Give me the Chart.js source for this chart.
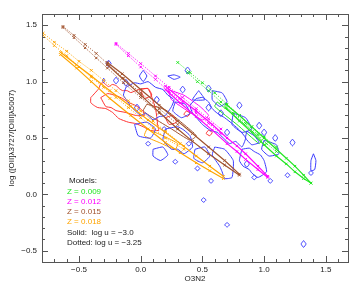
<!DOCTYPE html>
<html>
<head>
<meta charset="utf-8">
<script src="https://cdn.jsdelivr.net/npm/chart.js@4.4.1/dist/chart.umd.min.js"></script>
<style>
  html, body { margin: 0; padding: 0; background: #fff; }
  #wrap { width: 361px; height: 289px; }
</style>
</head>
<body>
<div id="wrap"><canvas id="myChart" width="361" height="289"></canvas></div>
<script>
// axis ticks
var xTicks = [-0.5, 0.0, 0.5, 1.0, 1.5];
var yTicks = [-0.5, 0.0, 0.5, 1.0, 1.5];
var xMinor = [-0.7, -0.6, -0.4, -0.3, -0.2, -0.1, 0.1, 0.2, 0.3, 0.4, 0.6, 0.7, 0.8, 0.9, 1.1, 1.2, 1.3, 1.4, 1.6];
var yMinor = [-0.4, -0.3, -0.2, -0.1, 0.1, 0.2, 0.3, 0.4, 0.6, 0.7, 0.8, 0.9, 1.1, 1.2, 1.3, 1.4];

// model tracks (O3N2, log OII/OIII)
var z009Solid  = [[[0.69,0.80],[0.80,0.70],[0.90,0.60],[1.00,0.50],[1.10,0.40],[1.18,0.32],[1.25,0.25],[1.32,0.17],[1.38,0.10]],
                  [[0.69,0.77],[0.80,0.65],[0.90,0.55],[1.00,0.44],[1.10,0.34],[1.18,0.27],[1.25,0.20],[1.32,0.14],[1.38,0.10]]];
var z009Dotted = [[[0.30,1.17],[0.40,1.08],[0.50,0.99],[0.60,0.90],[0.70,0.80],[0.80,0.70],[0.90,0.60],[1.00,0.51],[1.10,0.42]],
                  [[0.38,1.08],[0.46,1.00],[0.55,0.92],[0.65,0.82],[0.75,0.72],[0.85,0.63],[0.95,0.53],[1.02,0.45],[1.10,0.38]]];
var z012Solid  = [[[0.20,0.96],[0.32,0.85],[0.45,0.74],[0.58,0.62],[0.70,0.50],[0.78,0.43],[0.85,0.36],[0.95,0.25],[1.03,0.16]],
                  [[0.20,0.93],[0.32,0.81],[0.45,0.69],[0.58,0.57],[0.70,0.45],[0.78,0.38],[0.85,0.31],[0.95,0.22],[1.03,0.15]]];
var z012Dotted = [[[-0.20,1.34],[-0.10,1.25],[0.00,1.16],[0.12,1.05],[0.23,0.95],[0.34,0.86],[0.45,0.76],[0.55,0.67],[0.65,0.58]],
                  [[-0.20,1.33],[-0.10,1.23],[0.00,1.13],[0.12,1.02],[0.23,0.91],[0.34,0.82],[0.45,0.72],[0.55,0.63],[0.65,0.54]]];
var z015Solid  = [[[-0.27,1.17],[-0.15,1.07],[0.00,0.93],[0.15,0.79],[0.30,0.65],[0.42,0.54],[0.55,0.42],[0.68,0.30],[0.80,0.18]],
                  [[-0.27,1.15],[-0.15,1.03],[0.00,0.88],[0.15,0.73],[0.30,0.58],[0.42,0.47],[0.55,0.36],[0.68,0.26],[0.80,0.17]]];
var z015Dotted = [[[-0.63,1.49],[-0.54,1.41],[-0.45,1.33],[-0.36,1.25],[-0.27,1.16],[-0.14,1.03],[0.00,0.90],[0.15,0.76],[0.30,0.62]],
                  [[-0.63,1.48],[-0.54,1.39],[-0.45,1.30],[-0.36,1.21],[-0.27,1.12],[-0.14,0.99],[0.00,0.86],[0.15,0.72],[0.30,0.58]]];
var z018Solid  = [[[-0.65,1.26],[-0.52,1.15],[-0.40,1.05],[-0.25,0.92],[-0.08,0.78],[0.06,0.66],[0.20,0.55],[0.32,0.45],[0.45,0.34],[0.56,0.25],[0.67,0.16]],
                  [[-0.65,1.24],[-0.52,1.12],[-0.40,1.00],[-0.25,0.85],[-0.08,0.70],[0.06,0.58],[0.20,0.46],[0.32,0.37],[0.45,0.28],[0.56,0.21],[0.67,0.14]]];
var z018Dotted = [[[-0.79,1.43],[-0.70,1.35],[-0.60,1.27],[-0.50,1.18],[-0.40,1.10],[-0.30,1.01],[-0.20,0.92],[-0.10,0.83],[0.00,0.74],[0.10,0.65],[0.20,0.56],[0.35,0.43]],
                  [[-0.79,1.41],[-0.70,1.32],[-0.60,1.23],[-0.50,1.13],[-0.40,1.04],[-0.30,0.95],[-0.20,0.86],[-0.10,0.77],[0.00,0.68],[0.10,0.59],[0.20,0.50],[0.35,0.40]]];

// observed density contours
var redContours = [
  [[-0.405,0.858],[-0.37,0.90],[-0.34,0.938],[-0.324,0.982],[-0.30,0.991],[-0.28,0.97],[-0.26,0.956],[-0.23,0.975],[-0.20,0.965],[-0.17,0.935],[-0.146,0.92],[-0.11,0.92],[-0.08,0.903],[-0.03,0.925],[0.016,0.938],[0.057,0.938],[0.08,0.894],[0.10,0.83],[0.12,0.761],[0.13,0.69],[0.138,0.61],[0.146,0.566],[0.11,0.57],[0.08,0.566],[0.02,0.60],[-0.04,0.628],[-0.10,0.64],[-0.178,0.673],[-0.227,0.726],[-0.283,0.761],[-0.348,0.77],[-0.38,0.79],[-0.405,0.814],[-0.405,0.858]],
  [[-0.324,0.858],[-0.267,0.894],[-0.20,0.876],[-0.146,0.85],[-0.097,0.814],[-0.04,0.788],[0.016,0.743],[0.03,0.70],[-0.04,0.70],[-0.12,0.726],[-0.20,0.743],[-0.24,0.77],[-0.283,0.779],[-0.324,0.858]],
  [[0.00,0.93],[0.06,0.94],[0.09,0.88],[0.03,0.85],[0.00,0.93]],
  [[0.37,0.74],[0.40,0.72],[0.38,0.69],[0.35,0.71],[0.37,0.74]],
  [[0.55,0.57],[0.58,0.55],[0.56,0.52],[0.53,0.54],[0.55,0.57]],
  [[0.20,0.68],[0.26,0.70],[0.29,0.64],[0.23,0.62],[0.20,0.68]]
];
var blueContours = [
  [[-0.26,1.19],[-0.24,1.16],[-0.26,1.13],[-0.28,1.16],[-0.26,1.19]],
  [[-0.30,1.03],[-0.29,1.01],[-0.30,0.99],[-0.31,1.01],[-0.30,1.03]],
  [[-0.20,1.04],[-0.18,1.01],[-0.20,0.98],[-0.22,1.01],[-0.20,1.04]],
  [[-0.12,1.02],[-0.10,0.99],[-0.12,0.96],[-0.14,0.99],[-0.12,1.02]],
  [[0.02,1.10],[0.05,1.05],[0.02,1.00],[-0.01,1.05],[0.02,1.10]],
  [[0.22,1.05],[0.27,1.06],[0.32,1.04],[0.27,1.02],[0.22,1.05]],
  [[0.38,1.13],[0.40,1.10],[0.38,1.07],[0.36,1.10],[0.38,1.13]],
  [[0.55,0.97],[0.57,0.94],[0.55,0.91],[0.53,0.94],[0.55,0.97]],
  [[0.47,0.92],[0.52,0.84],[0.42,0.84],[0.47,0.92]],
  [[0.55,0.80],[0.57,0.77],[0.55,0.74],[0.53,0.77],[0.55,0.80]],
  [[0.65,0.75],[0.67,0.72],[0.65,0.69],[0.63,0.72],[0.65,0.75]],
  [[0.96,0.64],[0.98,0.61],[0.96,0.58],[0.94,0.61],[0.96,0.64]],
  [[1.09,0.53],[1.11,0.50],[1.09,0.47],[1.07,0.50],[1.09,0.53]],
  [[1.23,0.49],[1.25,0.46],[1.23,0.43],[1.21,0.46],[1.23,0.49]],
  [[0.28,0.31],[0.30,0.29],[0.28,0.27],[0.26,0.29],[0.28,0.31]],
  [[0.46,0.25],[0.48,0.23],[0.46,0.21],[0.44,0.23],[0.46,0.25]],
  [[0.51,-0.03],[0.53,-0.05],[0.51,-0.07],[0.49,-0.05],[0.51,-0.03]],
  [[0.70,-0.25],[0.72,-0.27],[0.70,-0.29],[0.68,-0.27],[0.70,-0.25]],
  [[1.32,-0.41],[1.34,-0.44],[1.32,-0.47],[1.30,-0.44],[1.32,-0.41]],
  [[0.92,0.17],[0.94,0.15],[0.92,0.13],[0.90,0.15],[0.92,0.17]],
  [[1.05,0.14],[1.07,0.12],[1.05,0.10],[1.03,0.12],[1.05,0.14]],
  [[1.19,0.19],[1.21,0.17],[1.19,0.15],[1.17,0.17],[1.19,0.19]],
  [[1.40,0.36],[1.42,0.30],[1.41,0.22],[1.38,0.21],[1.38,0.30],[1.40,0.36]],
  [[1.38,0.21],[1.40,0.19],[1.38,0.17],[1.36,0.19],[1.38,0.21]],
  [[0.06,0.47],[0.08,0.45],[0.06,0.43],[0.04,0.45],[0.06,0.47]],
  [[0.57,0.14],[0.59,0.12],[0.57,0.10],[0.55,0.12],[0.57,0.14]],
  [[0.19,0.60],[0.21,0.58],[0.19,0.56],[0.17,0.58],[0.19,0.60]],
  [[0.39,0.47],[0.41,0.45],[0.39,0.43],[0.37,0.45],[0.39,0.47]],
  [[0.80,0.82],[0.82,0.79],[0.80,0.76],[0.78,0.79],[0.80,0.82]],
  [[0.86,0.30],[0.88,0.27],[0.86,0.24],[0.84,0.27],[0.86,0.30]],
  [[0.13,0.87],[0.15,0.84],[0.13,0.81],[0.11,0.84],[0.13,0.87]],
  [[-0.03,0.80],[-0.01,0.77],[-0.03,0.74],[-0.05,0.77],[-0.03,0.80]],
  [[0.34,0.96],[0.36,0.93],[0.34,0.90],[0.32,0.93],[0.34,0.96]],
  [[0.70,0.58],[0.72,0.55],[0.70,0.52],[0.68,0.55],[0.70,0.58]],
  [[1.00,0.58],[1.02,0.55],[1.00,0.52],[0.98,0.55],[1.00,0.58]],
  [[-0.12,0.95],[-0.05,0.99],[0.00,0.98],[0.06,1.00],[0.12,0.95],[0.18,0.93],[0.22,0.88],[0.27,0.84],[0.25,0.78],[0.20,0.70],[0.15,0.69],[0.10,0.66],[0.04,0.72],[0.00,0.70],[-0.08,0.78],[-0.11,0.83],[-0.14,0.88],[-0.12,0.95]],
  [[0.45,0.85],[0.50,0.86],[0.55,0.82],[0.58,0.76],[0.62,0.72],[0.68,0.68],[0.75,0.62],[0.80,0.57],[0.85,0.50],[0.82,0.42],[0.77,0.47],[0.72,0.45],[0.67,0.50],[0.62,0.55],[0.56,0.57],[0.50,0.62],[0.46,0.67],[0.42,0.72],[0.40,0.79],[0.45,0.85]],
  [[0.82,0.40],[0.88,0.41],[0.92,0.38],[0.97,0.35],[1.00,0.30],[1.02,0.20],[0.95,0.15],[0.90,0.19],[0.88,0.22],[0.83,0.25],[0.80,0.30],[0.82,0.40]],
  [[0.20,0.58],[0.30,0.60],[0.35,0.57],[0.40,0.52],[0.42,0.42],[0.35,0.36],[0.30,0.40],[0.25,0.40],[0.18,0.48],[0.20,0.58]],
  [[0.60,0.42],[0.68,0.40],[0.75,0.30],[0.74,0.15],[0.68,0.14],[0.66,0.20],[0.64,0.25],[0.58,0.35],[0.60,0.42]],
  [[0.75,0.72],[0.85,0.68],[0.90,0.58],[0.82,0.55],[0.74,0.62],[0.75,0.72]],
  [[1.00,0.48],[1.10,0.44],[1.12,0.36],[1.04,0.34],[0.98,0.40],[1.00,0.48]],
  [[0.10,0.40],[0.18,0.42],[0.22,0.35],[0.16,0.30],[0.10,0.34],[0.10,0.40]],
  [[-0.05,0.62],[0.05,0.64],[0.12,0.58],[0.08,0.50],[-0.02,0.52],[-0.05,0.62]],
  [[0.58,0.92],[0.66,0.90],[0.70,0.82],[0.64,0.78],[0.58,0.84],[0.58,0.92]],
  [[0.28,0.82],[0.36,0.80],[0.40,0.72],[0.33,0.68],[0.26,0.74],[0.28,0.82]],
  [[0.44,0.40],[0.52,0.42],[0.56,0.34],[0.50,0.28],[0.43,0.32],[0.44,0.40]],
  [[0.86,0.56],[0.92,0.52],[0.96,0.46],[0.90,0.44],[0.85,0.50],[0.86,0.56]]
];
var brownContours = [
  [[0.05,0.80],[0.20,0.75],[0.35,0.62],[0.45,0.52],[0.40,0.48],[0.25,0.58],[0.10,0.68],[0.02,0.74],[0.05,0.80]]
];
var magentaContours = [
  [[0.22,0.93],[0.35,0.88],[0.48,0.78],[0.55,0.70],[0.50,0.66],[0.38,0.74],[0.25,0.84],[0.22,0.93]]
];
var orangeContours = [
  [[0.05,0.58],[0.18,0.52],[0.30,0.45],[0.28,0.40],[0.15,0.46],[0.03,0.52],[0.05,0.58]]
];
var greenContours = [
  [[0.62,0.82],[0.80,0.66],[0.98,0.48],[0.96,0.45],[0.78,0.62],[0.60,0.78],[0.62,0.82]]
];

var cGreen = "#22e622", cMagenta = "#ff00ff", cBrown = "#a0522d", cOrange = "#ffa500";
var cBlue = "#3a3aff", cRed = "#ff3030";

function pts(a) { return a.map(function (p) { return { x: p[0], y: p[1] }; }); }

var datasets = [];
function addModel(strands, color, dotted) {
  strands.forEach(function (s) {
    datasets.push({
      data: pts(s), showLine: true, order: 0,
      borderColor: color, backgroundColor: color,
      borderWidth: dotted ? 1 : 1.2, borderDash: dotted ? [1, 1.5] : [],
      pointStyle: "crossRot", pointRadius: 1.8, pointBorderWidth: 1, pointBorderColor: color
    });
  });
}
function addContours(list, color) {
  list.forEach(function (s) {
    datasets.push({
      data: pts(s), showLine: true, order: 1,
      borderColor: color, borderWidth: 1, pointRadius: 0, tension: 0.15
    });
  });
}
addModel(z009Solid, cGreen, false);  addModel(z009Dotted, cGreen, true);
addModel(z012Solid, cMagenta, false); addModel(z012Dotted, cMagenta, true);
addModel(z015Solid, cBrown, false);  addModel(z015Dotted, cBrown, true);
addModel(z018Solid, cOrange, false); addModel(z018Dotted, cOrange, true);
addContours(blueContours, cBlue);
addContours(redContours, cRed);
addContours(brownContours, cBrown);
addContours(magentaContours, cMagenta);
addContours(orangeContours, cOrange);
addContours(greenContours, cGreen);

var legendLines = [
  ["Models:", "#222", 69, 181],
  ["Z = 0.009", cGreen, 67, 192],
  ["Z = 0.012", cMagenta, 67, 202],
  ["Z = 0.015", cBrown, 67, 212],
  ["Z = 0.018", cOrange, 67, 222],
  ["Solid:  log u = \u22123.0", "#222", 67, 233],
  ["Dotted: log u = \u22123.25", "#222", 67, 243]
];

function fmt(v) { return (v < 0 ? "\u2212" : "") + Math.abs(v).toFixed(1); }

var frame = {
  id: "frame",
  afterDraw: function (chart) {
    var ctx = chart.ctx, a = chart.chartArea, xs = chart.scales.x, ys = chart.scales.y;
    ctx.save();
    ctx.strokeStyle = "#555";
    ctx.lineWidth = 1;
    ctx.strokeRect(Math.round(a.left) + 0.5, Math.round(a.top) + 0.5, Math.round(a.right - a.left), Math.round(a.bottom - a.top));
    ctx.beginPath();
    function xt(vals, len) {
      vals.forEach(function (v) {
        var px = Math.round(xs.getPixelForValue(v)) + 0.5;
        ctx.moveTo(px, a.bottom); ctx.lineTo(px, a.bottom - len);
        ctx.moveTo(px, a.top); ctx.lineTo(px, a.top + len);
      });
    }
    function yt(vals, len) {
      vals.forEach(function (v) {
        var py = Math.round(ys.getPixelForValue(v)) + 0.5;
        ctx.moveTo(a.left, py); ctx.lineTo(a.left + len, py);
        ctx.moveTo(a.right, py); ctx.lineTo(a.right - len, py);
      });
    }
    xt(xTicks, 6); xt(xMinor, 3); yt(yTicks, 6); yt(yMinor, 3);
    ctx.stroke();

    ctx.font = "8px 'Liberation Sans', Arial, sans-serif";
    ctx.textBaseline = "middle";
    ctx.textAlign = "left";
    legendLines.forEach(function (l) {
      ctx.fillStyle = l[1];
      ctx.fillText(l[0], l[2], l[3]);
    });
    ctx.fillStyle = "#222";
    ctx.textAlign = "center";
    ctx.fillText("O3N2", (a.left + a.right) / 2, 279);
    ctx.translate(12, (a.top + a.bottom) / 2);
    ctx.rotate(-Math.PI / 2);
    ctx.fillText("log ([OII]\u03bb3727/[OIII]\u03bb5007)", 0, 0);
    ctx.restore();
  }
};

new Chart("myChart", {
  type: "scatter",
  data: { datasets: datasets },
  options: {
    responsive: false,
    animation: false,
    events: [],
    layout: { padding: { left: 0, top: 14, right: 13, bottom: 0 } },
    plugins: { legend: { display: false }, tooltip: { enabled: false } },
    scales: {
      x: {
        min: -0.8, max: 1.68,
        afterFit: function (s) { s.height = 27; },
        afterBuildTicks: function (s) { s.ticks = xTicks.map(function (v) { return { value: v }; }); },
        grid: { display: false, drawTicks: false },
        border: { display: false },
        ticks: { padding: 3, color: "#222", font: { size: 8, family: "'Liberation Sans', Arial, sans-serif" },
                 callback: function (v) { return fmt(v); }, maxRotation: 0, autoSkip: false }
      },
      y: {
        min: -0.6, max: 1.6,
        afterFit: function (s) { s.width = 42; },
        afterBuildTicks: function (s) { s.ticks = yTicks.map(function (v) { return { value: v }; }); },
        grid: { display: false, drawTicks: false },
        border: { display: false },
        ticks: { padding: 5, color: "#222", font: { size: 8, family: "'Liberation Sans', Arial, sans-serif" },
                 callback: function (v) { return fmt(v); }, autoSkip: false }
      }
    }
  },
  plugins: [frame]
});
</script>
</body>
</html>
